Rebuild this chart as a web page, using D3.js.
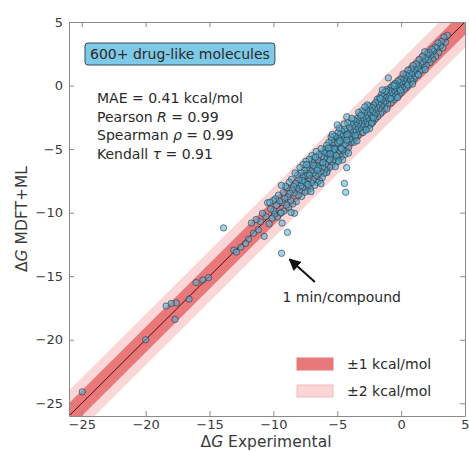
<!DOCTYPE html>
<html>
<head>
<meta charset="utf-8">
<script src="https://cdn.jsdelivr.net/npm/d3@7.9.0/dist/d3.min.js"></script>
<style>
  body { margin: 0; background: #fff; }
  svg { display: block; font-family: "DejaVu Sans", sans-serif; }
</style>
</head>
<body>
<svg id="chart" width="469" height="452"></svg>
<script>
// ---- data ----
const xTicks = [-25, -20, -15, -10, -5, 0, 5];
const yTicks = [-25, -20, -15, -10, -5, 0, 5];
const bands = [
  { label: '±2 kcal/mol', width: 2, fill: '#fbd6d6' },
  { label: '±1 kcal/mol', width: 1, fill: '#e9787b' },
];
const statLines = ['MAE = 0.41 kcal/mol', 'Pearson R = 0.99', 'Spearman ρ = 0.99', 'Kendall τ = 0.91'];
const boxTitle = '600+ drug-like molecules';
const annotated = { point: [-9.36, -13.2], text: '1 min/compound', textAt: [-4.65, -16.6] };

const upper = [
  [3.62,3.95],[3.48,3.41],[3.35,3.82],[3.27,2.96],[3.15,3.47],[3.06,3.12],[2.94,2.58],[2.88,3.35],[2.79,2.95],[2.71,2.31],
  [2.66,3.02],[2.55,2.70],[2.47,2.08],[2.41,2.85],[2.33,2.39],[2.26,1.82],[2.18,2.61],[2.12,2.05],[2.03,2.44],[1.97,1.58],
  [1.91,2.12],[1.84,2.66],[1.78,1.41],[1.72,1.89],[1.66,2.30],[1.59,1.22],[1.54,1.74],[1.47,1.15],[1.41,2.05],[1.36,1.52],
  [1.30,0.86],[1.26,1.38],[1.19,1.71],[1.13,0.74],[1.08,1.25],[1.02,0.52],[0.97,1.06],[0.93,1.58],[0.88,0.33],[0.84,0.91],
  [0.79,1.30],[0.73,0.48],[0.68,0.95],[0.62,0.12],[0.58,0.70],[0.53,1.21],[0.47,0.36],[0.43,-0.15],[0.39,0.83],[0.34,0.20],
  [0.28,0.58],[0.24,-0.31],[0.19,0.41],[0.15,0.92],[0.10,-0.12],[0.06,0.27],[0.02,-0.55],[-0.03,0.50],[-0.07,-0.08],[-0.12,0.22],
  [-0.16,-0.71],[-0.21,-0.19],[-0.25,0.36],[-0.30,-0.44],[-0.34,0.02]
];
const middle = [
  [-0.39,-0.90],[-0.43,-0.23],[-0.48,0.15],[-0.52,-0.61],[-0.57,-1.12],[-0.61,-0.35],[-0.66,0.04],[-0.70,-0.82],[-0.75,-0.48],[-0.79,-1.36],
  [-0.84,-0.17],[-0.88,-0.66],[-0.93,-1.05],[-0.97,-0.39],[-1.05,-1.48],[-1.10,-0.78],[-1.14,-0.31],[-1.18,-1.19],[-1.23,-0.92],
  [-1.27,-1.71],[-1.31,-0.52],[-1.36,-1.33],[-1.40,-0.84],[-1.44,-2.02],[-1.49,-1.10],[-1.53,-0.69],[-1.57,-1.58],[-1.61,-2.21],[-1.66,-1.26],
  [-1.70,-0.95],[-1.74,-1.83],[-1.79,-1.47],[-1.83,-2.44],[-1.87,-1.08],[-1.92,-1.69],[-1.96,-2.13],[-2.00,-1.35],[-0.55,-0.02],[-0.82,-1.02],
  [-1.20,-0.45],[-1.62,-1.02],[-0.28,-0.95],[-0.05,-0.38],[0.52,0.05],[0.90,0.12],[1.35,0.85],[1.88,1.25],[-1.46,-0.35],[-1.12,-1.85],
  [-2.04,-2.62],[-2.08,-1.85],[-2.12,-2.30],[-2.17,-1.53],[-2.21,-2.88],[-2.25,-2.05],[-2.29,-1.72],[-2.34,-2.51],[-2.38,-3.06],[-2.42,-1.94],
  [-2.46,-2.37],[-2.51,-1.61],[-2.55,-2.79],[-2.59,-3.22],[-2.63,-2.16],[-2.68,-2.58],[-2.72,-1.89],[-2.76,-3.01],[-2.80,-2.43],[-2.85,-3.48],
  [-2.89,-2.11],[-2.93,-2.77],[-2.97,-3.27],[-3.02,-2.52],[-3.06,-1.98],[-3.10,-3.05],[-3.14,-3.66],[-3.19,-2.71],[-3.23,-2.29],[-3.27,-3.39],
  [-3.31,-2.94],[-3.36,-3.91],[-3.40,-2.57],[-3.44,-3.16],[-3.48,-3.72],[-3.53,-2.83],[-3.57,-3.43],[-3.61,-4.10],[-3.65,-3.06],[-3.70,-2.69],
  [-3.74,-3.61],[-3.78,-4.28],[-3.82,-3.24],[-3.87,-3.88],[-3.91,-2.96],[-3.95,-4.47],[-3.99,-3.52],[-2.30,-2.95],[-2.65,-1.52],[-2.98,-3.70],
  [-3.33,-2.12],[-3.68,-4.46],[-2.47,-3.38],[-2.84,-1.68],[-3.12,-2.35],[-3.58,-3.95],[-3.86,-2.58],[-2.18,-2.55],[-2.74,-3.50],[-3.46,-4.35]
];
const lower = [
  [-4.03,-4.21],[-4.07,-3.30],[-4.11,-4.89],[-4.15,-3.77],[-4.19,-2.94],[-4.24,-4.46],[-4.28,-5.18],[-4.32,-3.61],[-4.36,-4.03],[-4.40,-5.42],
  [-4.45,-3.44],[-4.49,-4.70],[-4.53,-3.92],[-4.57,-5.07],[-4.61,-4.29],[-4.66,-3.58],[-4.70,-5.61],[-4.74,-4.52],[-4.78,-3.85],[-4.82,-4.95],
  [-4.87,-5.78],[-4.91,-4.17],[-4.95,-3.71],[-4.99,-5.26],[-5.03,-4.63],[-5.08,-6.04],[-5.12,-4.02],[-5.16,-5.44],[-5.20,-4.88],[-5.24,-3.97],
  [-5.29,-5.85],[-5.33,-4.49],[-5.37,-5.12],[-5.41,-6.27],[-5.45,-4.26],[-5.50,-5.63],[-5.54,-4.91],[-5.58,-6.44],[-5.62,-5.08],[-5.66,-4.47],
  [-5.71,-5.96],[-5.75,-5.31],[-5.79,-6.72],[-5.83,-4.70],[-5.87,-5.54],[-5.92,-6.18],[-5.96,-5.02],[-4.22,-3.88],[-4.58,-5.85],[-4.85,-3.35],
  [-5.15,-6.38],[-5.48,-4.05],[-5.82,-6.85],[-4.38,-4.62],[-4.68,-4.95],[-4.96,-4.51],[-5.27,-5.31],[-5.60,-5.82],[-5.90,-5.35],[-4.12,-5.32],
  [-4.46,-3.02],[-4.80,-4.38],[-5.06,-5.52],[-5.38,-3.85],[-5.70,-4.92],[-5.97,-6.62],[-4.26,-4.30],[-5.22,-5.01],[-5.56,-5.38],[-4.90,-5.95],
  [-6.01,-5.72],[-6.05,-6.93],[-6.09,-5.24],[-6.14,-6.41],[-6.18,-7.25],[-6.22,-5.58],[-6.26,-4.96],[-6.31,-6.77],[-6.35,-6.12],[-6.39,-7.49],
  [-6.43,-5.43],[-6.48,-6.95],[-6.52,-5.88],[-6.56,-7.61],[-6.60,-6.30],[-6.65,-5.19],[-6.69,-7.12],[-6.73,-6.54],[-6.77,-7.86],[-6.82,-5.71],
  [-6.86,-6.88],[-6.90,-7.42],[-6.94,-6.07],[-6.99,-5.52],[-7.03,-7.65],[-7.07,-6.73],[-7.11,-8.11],[-7.16,-6.22],[-7.20,-5.80],[-7.24,-7.34],
  [-7.28,-6.91],[-7.33,-8.28],[-7.37,-6.48],[-7.41,-7.73],[-7.45,-5.96],[-7.50,-7.08],[-7.54,-8.40],[-7.58,-6.67],[-7.62,-7.52],[-7.67,-6.21],
  [-7.71,-8.03],[-7.75,-7.19],[-7.79,-8.72],[-7.84,-6.83],[-7.88,-7.64],[-7.92,-6.45],[-7.96,-8.25],[-6.12,-6.05],[-6.47,-6.48],[-6.84,-6.30],
  [-7.18,-7.05],[-7.52,-7.61],[-7.85,-7.90],[-6.28,-7.72],[-6.70,-5.62],[-7.06,-8.35],[-7.40,-6.22],[-7.73,-7.48],[-6.58,-6.65],[-7.30,-7.80]
];
const tail = [
  [-8.01,-7.39],[-8.06,-8.62],[-8.11,-7.03],[-8.16,-8.08],[-8.21,-9.14],[-8.26,-7.71],[-8.31,-6.88],[-8.37,-8.45],[-8.42,-7.94],[-8.48,-9.32],
  [-8.53,-8.21],[-8.59,-7.38],[-8.64,-9.05],[-8.70,-8.48],[-8.76,-7.60],[-8.81,-9.63],[-8.87,-8.76],[-8.93,-8.05],[-8.99,-9.41],[-9.05,-7.92],
  [-9.11,-8.89],[-9.18,-9.88],[-9.24,-8.43],[-9.31,-9.21],[-9.38,-7.85],[-9.45,-10.02],[-9.52,-9.08],[-9.60,-8.62],[-9.68,-10.35],[-9.76,-9.44],
  [-9.84,-8.91],[-9.92,-10.12],[-10.01,-9.05],[-10.10,-10.44],[-8.35,-10.05],[-8.62,-9.98],[-9.40,-10.02],[-9.32,-10.82],[-8.90,-11.55],[-9.97,-9.85],
  [-10.21,-9.72],[-10.33,-10.88],[-10.45,-9.22],[-10.58,-10.31],[-10.72,-11.86],[-10.86,-10.05],[-11.01,-10.72],[-11.18,-11.35],[-11.35,-10.54],
  [-11.55,-11.62],[-11.72,-10.82],[-11.95,-12.08],[-12.18,-12.42],[-12.55,-12.71],[-10.28,-9.20],
  [-13.9,-11.2],[-13.1,-12.95],[-12.9,-13.1],[-15.08,-15.12],[-15.52,-15.30],[-16.05,-15.5],[-16.6,-16.8],[-17.6,-17.1],
  [-18.0,-17.15],[-18.4,-17.35],[-17.7,-18.4],[-20.0,-20.0],[-24.96,-24.1]
];
const outliers = [
  [-9.36,-13.2],[-4.26,-6.46],[-4.44,-7.7],[-4.34,-8.4],[-1.0,0.6],[-4.26,-2.46],[-5.0,-3.1]
];

// ---- layout ----
const width = 469, height = 452;
const margin = { top: 22, right: 4, bottom: 36, left: 69 };
const domain = [-26, 5];

const svg = d3.select('#chart');
const x = d3.scaleLinear().domain(domain).range([margin.left, width - margin.right]);
const y = d3.scaleLinear().domain(domain).range([height - margin.bottom, margin.top]);

svg.append('defs').append('clipPath').attr('id', 'plot-clip')
  .append('rect')
  .attr('x', x(domain[0])).attr('y', y(domain[1]))
  .attr('width', x(domain[1]) - x(domain[0]))
  .attr('height', y(domain[0]) - y(domain[1]));

const plot = svg.append('g').attr('clip-path', 'url(#plot-clip)');

// bands around y = x
const ext = [domain[0] - 3, domain[1] + 3];
bands.forEach(b => {
  const pts = [[ext[0], ext[0] + b.width], [ext[1], ext[1] + b.width], [ext[1], ext[1] - b.width], [ext[0], ext[0] - b.width]];
  plot.append('path')
    .attr('d', d3.line().x(d => x(d[0])).y(d => y(d[1]))(pts) + 'Z')
    .attr('fill', b.fill);
});

plot.append('line')
  .attr('x1', x(ext[0])).attr('y1', y(ext[0]))
  .attr('x2', x(ext[1])).attr('y2', y(ext[1]))
  .attr('stroke', '#4a0d0d').attr('stroke-width', 1);

const allPoints = [...upper, ...middle, ...lower, ...tail, ...outliers];
plot.append('g').selectAll('circle')
  .data(allPoints)
  .join('circle')
  .attr('cx', d => x(d[0]))
  .attr('cy', d => y(d[1]))
  .attr('r', 3.2)
  .attr('fill', '#4fb3d9')
  .attr('fill-opacity', 0.55)
  .attr('stroke', '#2f3a40')
  .attr('stroke-opacity', 0.7)
  .attr('stroke-width', 0.9);

// ---- axes (classic style: ticks inward on all four sides) ----
const axisColor = '#8a8a8a';
const textColor = '#3a3a3a';
const fmt = d => d < 0 ? '\u2212' + Math.abs(d) : String(d);

function styleAxis(g) {
  g.select('.domain').attr('stroke', axisColor);
  g.selectAll('.tick line').attr('stroke', axisColor);
  g.selectAll('.tick text').attr('fill', textColor).style('font-size', '13px').style('font-family', '"DejaVu Sans", sans-serif');
}

svg.append('g').attr('transform', `translate(0,${y(domain[0])})`)
  .call(d3.axisBottom(x).tickValues(xTicks).tickFormat(fmt).tickSizeInner(-5).tickSizeOuter(0).tickPadding(4))
  .call(styleAxis);
svg.append('g').attr('transform', `translate(0,${y(domain[1])})`)
  .call(d3.axisTop(x).tickValues(xTicks).tickFormat('').tickSizeInner(-5).tickSizeOuter(0))
  .call(styleAxis);
svg.append('g').attr('transform', `translate(${x(domain[0])},0)`)
  .call(d3.axisLeft(y).tickValues(yTicks).tickFormat(fmt).tickSizeInner(-5).tickSizeOuter(0).tickPadding(6))
  .call(styleAxis);
svg.append('g').attr('transform', `translate(${x(domain[1])},0)`)
  .call(d3.axisRight(y).tickValues(yTicks).tickFormat('').tickSizeInner(-5).tickSizeOuter(0))
  .call(styleAxis);

// axis labels
svg.append('text')
  .attr('x', 266).attr('y', 447)
  .attr('text-anchor', 'middle').attr('fill', textColor).style('font-size', '15.5px')
  .html('Δ<tspan font-style="italic">G</tspan> Experimental');
svg.append('text')
  .attr('transform', `translate(27,${(y(domain[0]) + y(domain[1])) / 2}) rotate(-90)`)
  .attr('text-anchor', 'middle').attr('fill', textColor).style('font-size', '15.5px')
  .html('Δ<tspan font-style="italic">G</tspan> MDFT+ML');

// title box
const title = svg.append('g');
const tText = title.append('text')
  .attr('x', 90).attr('y', 59)
  .attr('fill', '#2a2a2a').style('font-size', '14px')
  .text(boxTitle);
const bb = tText.node().getBBox();
title.insert('rect', 'text')
  .attr('x', bb.x - 5).attr('y', bb.y - 3)
  .attr('width', bb.width + 10).attr('height', bb.height + 6)
  .attr('rx', 3)
  .attr('fill', '#7fc9e8').attr('stroke', '#3a4a55').attr('stroke-width', 1);

// statistics
const stats = svg.append('text').attr('fill', '#2a2a2a').style('font-size', '14px');
statLines.forEach((s, i) => {
  const t = stats.append('tspan').attr('x', 97).attr('y', 103 + i * 18.7);
  const m = s.match(/^(\S+) (R|ρ|τ) (= .*)$/);
  if (m) {
    t.append('tspan').text(m[1] + ' ');
    t.append('tspan').attr('font-style', 'italic').text(m[2]);
    t.append('tspan').text(' ' + m[3]);
  } else {
    t.text(s);
  }
});

// annotation
const [ax, ay] = annotated.point;
const tipX = x(ax) + 8, tipY = y(ay) + 6;
const tailX = x(-6.75), tailY = y(-15.45);
svg.append('defs').append('marker')
  .attr('id', 'arrow').attr('viewBox', '0 0 10 10')
  .attr('refX', 9).attr('refY', 5)
  .attr('markerWidth', 6).attr('markerHeight', 6)
  .attr('orient', 'auto')
  .append('path').attr('d', 'M0,0L10,5L0,10Z').attr('fill', '#111');
svg.append('line')
  .attr('x1', tailX).attr('y1', tailY).attr('x2', tipX).attr('y2', tipY)
  .attr('stroke', '#111').attr('stroke-width', 2)
  .attr('marker-end', 'url(#arrow)');
svg.append('text')
  .attr('x', x(annotated.textAt[0])).attr('y', y(annotated.textAt[1]) + 5)
  .attr('text-anchor', 'middle').attr('fill', '#2a2a2a').style('font-size', '14px')
  .text(annotated.text);

// legend
const legend = svg.append('g').attr('transform', 'translate(297,358)');
[bands[1], bands[0]].forEach((b, i) => {
  const row = legend.append('g').attr('transform', `translate(0,${i * 27})`);
  row.append('rect').attr('width', 36).attr('height', 12)
    .attr('fill', b.fill).attr('stroke', i === 0 ? '#e9787b' : '#f4b9b9');
  row.append('text').attr('x', 50).attr('y', 11)
    .attr('fill', '#2a2a2a').style('font-size', '14px').text(b.label);
});
</script>
</body>
</html>
